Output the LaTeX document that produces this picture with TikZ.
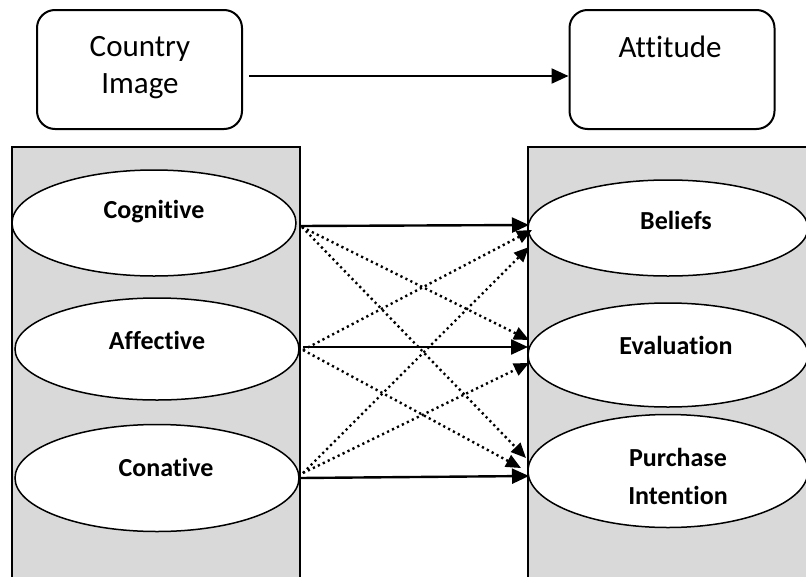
\documentclass[tikz,border=0pt]{standalone}
\usepackage{fontspec}
\setmainfont[Ligatures=NoCommon]{Carlito}
\usetikzlibrary{shapes.geometric,arrows.meta}
\begin{document}
\begin{tikzpicture}[x=1pt,y=-1pt,
  topbox/.style={draw,line width=2pt,rounded corners=18pt,minimum width=205pt,minimum height=119pt,inner sep=0pt},
  panel/.style={draw,line width=1.8pt,fill=black!15},
  oval/.style={ellipse,draw,line width=1.5pt,fill=white,inner sep=0pt},
  bigtxt/.style={font=\fontsize{31}{37}\selectfont,align=center},
  lbl/.style={font=\fontsize{26}{38}\selectfont\bfseries,align=center},
  solidarr/.style={line width=2.4pt,-{Triangle[length=17pt,width=15pt]}},
  dotarr/.style={line width=2.4pt,dash pattern=on 2.2pt off 3.3pt,-{Triangle[length=15pt,width=13pt]}}]
\useasboundingbox (0,0) rectangle (806,576);
% top boxes
\node[topbox] (ci) at (139.5,69.5) {};
\node[bigtxt] (citxt) at (140,68) {Country\\Image};
\node[topbox] (att) at (672,69.5) {};
\node[bigtxt] (atttxt) at (670,47) {Attitude};
\draw[line width=2.2pt,-{Triangle[length=17pt,width=15pt]}] (ci.east)+(6,6.5) coordinate (ciout) (ciout) -- (att.west|-ciout);
% panels
\draw[panel] (12,147) rectangle (300,585);
\draw[panel] (528,147) rectangle (812,585);
% left ovals
\node[oval,minimum width=284pt,minimum height=106pt] (cog) at (154,223) {};
\node[lbl] (cogt) at (154,212) {Cognitive};
\node[oval,minimum width=284pt,minimum height=102pt] (aff) at (157,349) {};
\node[lbl] (afft) at (157,340) {Affective};
\node[oval,minimum width=284pt,minimum height=107pt] (con) at (157,478) {};
\node[lbl] (cont) at (166,467) {Conative};
% right ovals
\node[oval,minimum width=280pt,minimum height=96pt] (bel) at (668,228) {};
\node[lbl] (belt) at (676,220) {Beliefs};
\node[oval,minimum width=280pt,minimum height=104pt] (eva) at (668,355) {};
\node[lbl] (evat) at (676,345) {Evaluation};
\node[oval,minimum width=280pt,minimum height=113pt] (pur) at (668,471) {};
\node[lbl] (purt) at (678,476) {Purchase\\Intention};
% connector end points
\coordinate (cogA) at (300,226);
\coordinate (cogB) at (302,227);
\coordinate (affA) at (303,347);
\coordinate (affB) at (303,350);
\coordinate (conA) at (300,478);
\coordinate (conB) at (303,473);
\coordinate (belA) at (529,225);
\coordinate (belB) at (532,230);
\coordinate (belC) at (529,247);
\coordinate (evaA) at (528,347);
\coordinate (evaB) at (529,340);
\coordinate (evaC) at (529,363);
\coordinate (purA) at (529,476);
\coordinate (purB) at (526,458);
\coordinate (purC) at (521,468);
% solid
\draw[solidarr] (cogA) -- (belA);
\draw[solidarr] (affA) -- (evaA);
\draw[solidarr] (conA) -- (purA);
% dotted
\draw[dotarr] (cogB) -- (evaB);
\draw[dotarr] (cogB) -- (purB);
\draw[dotarr] (affB) -- (belB);
\draw[dotarr] (affB) -- (purC);
\draw[dotarr] (conB) -- (belC);
\draw[dotarr] (conB) -- (evaC);
\end{tikzpicture}
\end{document}
